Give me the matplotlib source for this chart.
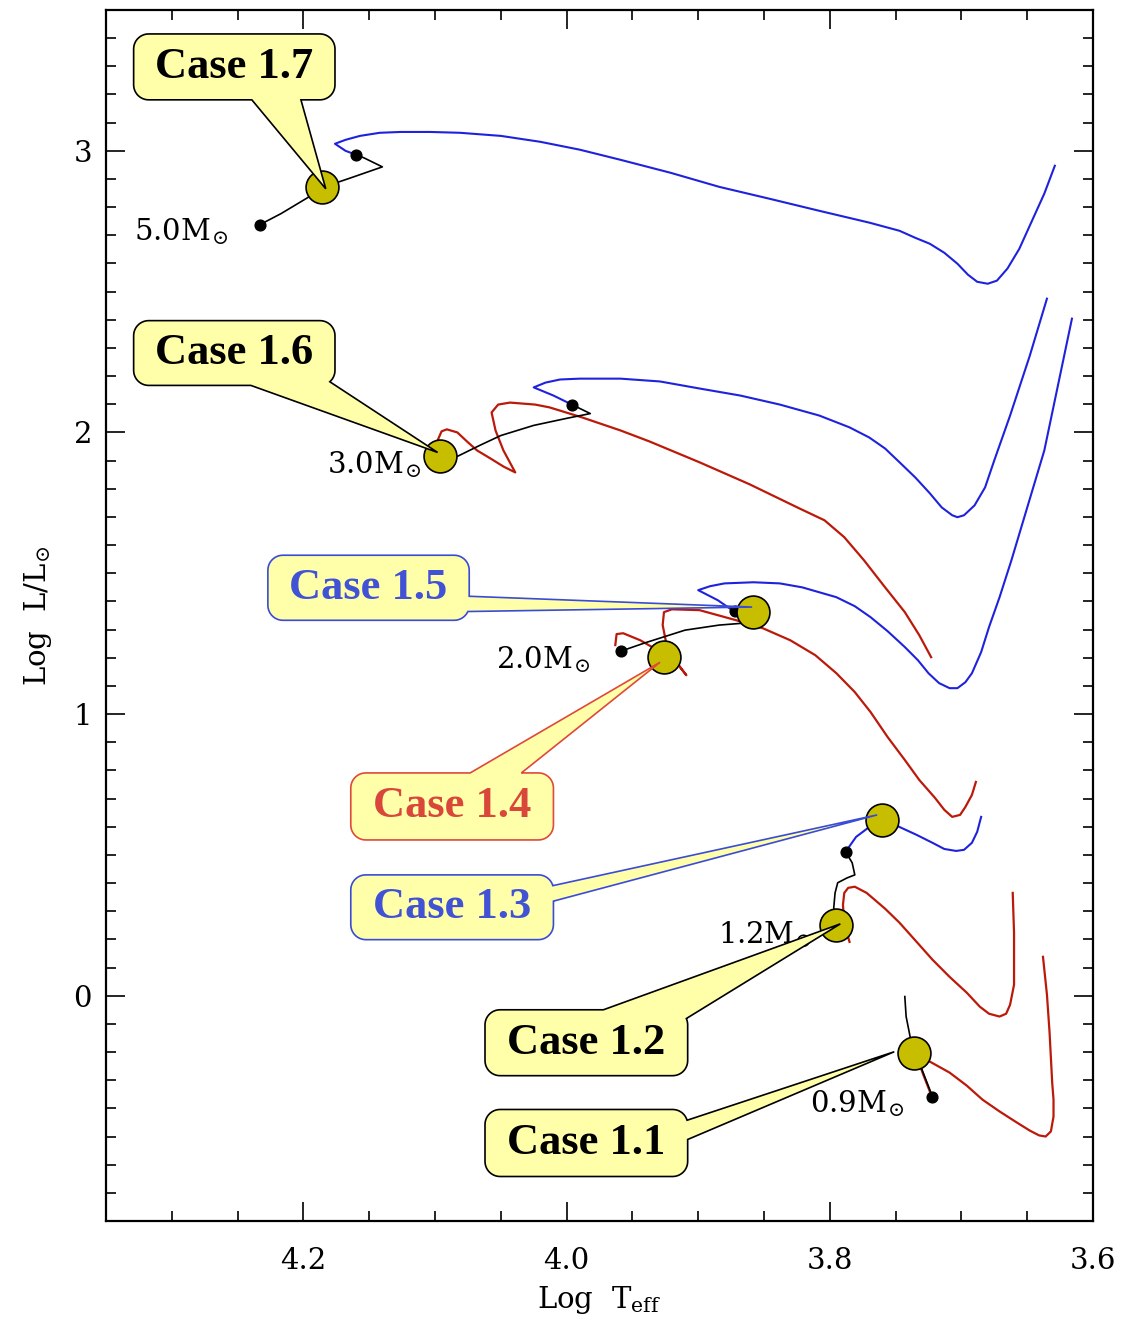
import numpy as np
import matplotlib

matplotlib.use("Agg")

import matplotlib.pyplot as plt
from matplotlib.patches import Polygon
from matplotlib.ticker import FormatStrFormatter, MultipleLocator

plt.rcParams["font.family"] = "DejaVu Serif"
plt.rcParams["mathtext.fontset"] = "dejavuserif"

# HR-diagram tracks as (log Teff, log L/Lsun)
# black = main-sequence part, blue / red = binary evolution branches
MS_50 = [(4.233, 2.738), (4.217, 2.777), (4.197, 2.833), (4.186, 2.869), (4.164, 2.904),
         (4.140, 2.943), (4.154, 2.975), (4.160, 2.986)]
BLUE_50 = [(4.160, 2.986), (4.168, 3.000), (4.176, 3.025), (4.168, 3.039), (4.157, 3.053),
           (4.142, 3.064), (4.126, 3.067), (4.104, 3.067), (4.081, 3.064), (4.050, 3.053),
           (4.020, 3.032), (3.990, 3.004), (3.959, 2.968), (3.921, 2.922), (3.884, 2.872),
           (3.846, 2.830), (3.808, 2.787), (3.770, 2.745), (3.747, 2.716), (3.735, 2.691),
           (3.724, 2.670), (3.713, 2.638), (3.703, 2.599), (3.695, 2.560), (3.688, 2.535),
           (3.680, 2.528), (3.673, 2.539), (3.665, 2.582), (3.656, 2.652), (3.647, 2.745),
           (3.637, 2.848), (3.629, 2.947)]

MS_30 = [(4.096, 1.915), (4.083, 1.915), (4.066, 1.954), (4.050, 1.989), (4.025, 2.025),
         (4.000, 2.050), (3.982, 2.067), (3.996, 2.099)]
BLUE_30 = [(3.996, 2.099), (4.010, 2.131), (4.025, 2.160), (4.016, 2.177), (4.005, 2.188),
           (3.990, 2.191), (3.959, 2.191), (3.929, 2.181), (3.899, 2.156), (3.868, 2.131),
           (3.838, 2.099), (3.808, 2.060), (3.785, 2.018), (3.770, 1.982), (3.758, 1.943),
           (3.747, 1.894), (3.735, 1.840), (3.724, 1.784), (3.715, 1.734), (3.707, 1.706),
           (3.703, 1.699), (3.698, 1.706), (3.690, 1.741), (3.682, 1.805), (3.675, 1.901),
           (3.663, 2.060), (3.648, 2.273), (3.635, 2.475)]
RED_30 = [(4.098, 1.972), (4.095, 2.004), (4.091, 2.011), (4.083, 2.000), (4.075, 1.965),
          (4.068, 1.936), (4.058, 1.908), (4.048, 1.879), (4.039, 1.858), (4.048, 1.936),
          (4.054, 2.007), (4.057, 2.071), (4.052, 2.099), (4.043, 2.106), (4.024, 2.099),
          (4.013, 2.089), (3.988, 2.053), (3.959, 2.007), (3.937, 1.968), (3.899, 1.894),
          (3.861, 1.816), (3.823, 1.730), (3.804, 1.688), (3.789, 1.628), (3.774, 1.546),
          (3.758, 1.450), (3.743, 1.362), (3.732, 1.280), (3.723, 1.202)]

MS_20 = [(3.959, 1.223), (3.941, 1.252), (3.910, 1.298), (3.884, 1.316), (3.865, 1.323),
         (3.857, 1.330), (3.872, 1.362)]
BLUE_20 = [(3.872, 1.362), (3.885, 1.404), (3.900, 1.440), (3.891, 1.454), (3.880, 1.464),
           (3.858, 1.468), (3.838, 1.464), (3.821, 1.450), (3.795, 1.415), (3.781, 1.383),
           (3.769, 1.344), (3.756, 1.294), (3.743, 1.238), (3.733, 1.191), (3.725, 1.145),
           (3.717, 1.110), (3.709, 1.092), (3.703, 1.092), (3.697, 1.113), (3.692, 1.145),
           (3.685, 1.220), (3.679, 1.309), (3.671, 1.415), (3.662, 1.546), (3.637, 1.936),
           (3.616, 2.404)]
RED_20 = [(3.963, 1.245), (3.962, 1.284), (3.957, 1.287), (3.944, 1.262), (3.931, 1.227),
          (3.916, 1.181), (3.909, 1.138), (3.918, 1.191), (3.924, 1.245), (3.927, 1.316),
          (3.926, 1.362), (3.920, 1.372), (3.899, 1.369), (3.871, 1.333), (3.851, 1.305),
          (3.830, 1.262), (3.811, 1.209), (3.795, 1.145), (3.781, 1.078), (3.769, 1.007),
          (3.756, 0.918), (3.743, 0.837), (3.732, 0.766), (3.720, 0.702), (3.713, 0.660),
          (3.707, 0.635), (3.701, 0.642), (3.697, 0.670), (3.692, 0.713), (3.689, 0.759)]

MS_12 = [(3.795, 0.252), (3.797, 0.312), (3.796, 0.365), (3.794, 0.401), (3.787, 0.418),
         (3.781, 0.429), (3.783, 0.472), (3.788, 0.511)]
BLUE_12 = [(3.788, 0.511), (3.780, 0.564), (3.770, 0.599), (3.760, 0.624), (3.747, 0.599),
           (3.734, 0.571), (3.722, 0.543), (3.713, 0.521), (3.704, 0.514), (3.698, 0.518),
           (3.692, 0.543), (3.688, 0.582), (3.685, 0.635)]
RED_12 = [(3.785, 0.191), (3.789, 0.252), (3.790, 0.323), (3.789, 0.365), (3.786, 0.383),
          (3.781, 0.387), (3.772, 0.365), (3.758, 0.309), (3.747, 0.259), (3.734, 0.191),
          (3.722, 0.128), (3.709, 0.067), (3.696, 0.011), (3.686, -0.039), (3.679, -0.064),
          (3.671, -0.074), (3.666, -0.064), (3.663, -0.032), (3.660, 0.039), (3.660, 0.128),
          (3.660, 0.223), (3.661, 0.365)]

MS_09 = [(3.743, -0.003), (3.742, -0.074), (3.739, -0.145), (3.736, -0.202), (3.730, -0.262),
         (3.722, -0.358)]
RED_09 = [(3.724, -0.340), (3.729, -0.280), (3.733, -0.227), (3.724, -0.234), (3.709, -0.273),
          (3.696, -0.319), (3.684, -0.369), (3.671, -0.411), (3.658, -0.450), (3.648, -0.479),
          (3.641, -0.496), (3.636, -0.500), (3.632, -0.482), (3.630, -0.429), (3.630, -0.369),
          (3.631, -0.309), (3.633, -0.131), (3.635, 0.004), (3.638, 0.138)]

# start / end of the main-sequence phase
DOT_LOGT = [4.233, 4.160, 3.996, 3.959, 3.872, 3.788, 3.722]
DOT_LOGL = [2.738, 2.986, 2.099, 1.223, 1.365, 0.511, -0.358]

MASS_LABELS = [r"5.0$\mathrm{M}_{\!\odot}$", r"3.0$\mathrm{M}_{\!\odot}$", r"2.0$\mathrm{M}_{\!\odot}$",
               r"1.2$\mathrm{M}_{\!\odot}$", r"0.9$\mathrm{M}_{\!\odot}$"]
MASS_LABEL_T = [4.329, 4.182, 4.054, 3.885, 3.815]
MASS_LABEL_L = [2.681, 1.855, 1.163, 0.188, -0.415]

# mass-transfer onset for each case
CASES = ["Case 1.1", "Case 1.2", "Case 1.3", "Case 1.4", "Case 1.5", "Case 1.6", "Case 1.7"]
CASE_LOGT = [3.736, 3.795, 3.760, 3.926, 3.858, 4.096, 4.186]
CASE_LOGL = [-0.202, 0.252, 0.624, 1.202, 1.362, 1.915, 2.872]

BLACK = "#000000"
BLUE_EDGE = "#3a4bd6"
RED_EDGE = "#e0483a"
CASE_EDGE = [BLACK, BLACK, BLUE_EDGE, RED_EDGE, BLUE_EDGE, BLACK, BLACK]
CASE_TEXT = ["#000000", "#000000", "#4152d4", "#d9473b", "#4152d4", "#000000", "#000000"]

# callout boxes: (left, right, bottom, top), wedge base points and wedge tip
CASE_BOX = [(4.062, 3.908, -0.642, -0.404), (4.062, 3.908, -0.284, -0.050),
            (4.164, 4.010, 0.199, 0.429), (4.164, 4.010, 0.553, 0.791),
            (4.227, 4.074, 1.333, 1.564), (4.329, 4.176, 2.167, 2.397),
            (4.329, 4.176, 3.181, 3.415)]
CASE_BASE = [((3.908, -0.443), (3.908, -0.511)), ((3.972, -0.050), (3.908, -0.078)),
             ((4.010, 0.390), (4.010, 0.337)), ((4.073, 0.791), (4.034, 0.791)),
             ((4.074, 1.418), (4.074, 1.362)), ((4.240, 2.167), (4.1795, 2.177)),
             ((4.239, 3.181), (4.2015, 3.181))]
CASE_TIP = [(3.751, -0.199), (3.792, 0.255), (3.764, 0.642), (3.929, 1.184),
            (3.859, 1.380), (4.098, 1.929), (4.183, 2.865)]

TRACK_BLUE = "#1f22dc"
TRACK_RED = "#bb1a0a"


def rounded_rect(x0, y0, x1, y1, r):
    corners = [(x1 - r, y0 + r, -90), (x1 - r, y1 - r, 0), (x0 + r, y1 - r, 90), (x0 + r, y0 + r, 180)]
    pts = []
    for cx, cy, a0 in corners:
        ang = np.radians(np.linspace(a0, a0 + 90, 12))
        pts.extend(zip(cx + r * np.cos(ang), cy + r * np.sin(ang)))
    pts = np.array(pts)
    dense = []
    for k in range(len(pts)):
        p, q = pts[k], pts[(k + 1) % len(pts)]
        n = max(int(np.hypot(*(q - p))), 1)
        for s in np.arange(n) / n:
            dense.append(p + (q - p) * s)
    return np.array(dense)


def callout(ax, box, base, tip, text, edge, color, radius=15):
    """Rounded box with a wedge pointing at tip, drawn as one outline (pixel space)."""
    to_px = ax.transData.transform
    (xa, ya), (xb, yb) = to_px([(box[0], box[2]), (box[1], box[3])])
    x0, x1 = sorted([xa, xb])
    y0, y1 = sorted([ya, yb])
    perim = rounded_rect(x0, y0, x1, y1, radius)
    b = to_px(base)
    t = to_px(tip)
    i = int(np.argmin(np.hypot(*(perim - b[0]).T)))
    j = int(np.argmin(np.hypot(*(perim - b[1]).T)))
    if i > j:
        i, j = j, i
    if j - i <= len(perim) / 2:
        outline = np.vstack([perim[:i + 1], t, perim[j:]])
    else:
        outline = np.vstack([perim[i:j + 1], t])
    poly = Polygon(ax.transData.inverted().transform(outline), closed=True,
                   facecolor="#ffffaa", edgecolor=edge, linewidth=1.2, zorder=6)
    ax.add_patch(poly)
    cx, cy = ax.transData.inverted().transform(((x0 + x1) / 2, (y0 + y1) / 2))
    ax.text(cx, cy, text, ha="center", va="center", fontsize=32, fontweight="bold",
            family="Liberation Serif", color=color, zorder=7)


fig = plt.figure(figsize=(11.37, 13.23), dpi=100)
ax = fig.add_axes([106 / 1137, 1 - 1221 / 1323, (1093 - 106) / 1137, (1221 - 10) / 1323])
ax.set_xlim(4.35, 3.6)
ax.set_ylim(-0.8, 3.5)

for seg in (MS_50, MS_30, MS_20, MS_12, MS_09):
    t, l = np.array(seg).T
    ax.plot(t, l, color=BLACK, lw=1.2, solid_joinstyle="round", zorder=3)
for seg in (BLUE_50, BLUE_30, BLUE_20, BLUE_12):
    t, l = np.array(seg).T
    ax.plot(t, l, color=TRACK_BLUE, lw=1.5, solid_joinstyle="round", zorder=2)
for seg in (RED_30, RED_20, RED_12, RED_09):
    t, l = np.array(seg).T
    ax.plot(t, l, color=TRACK_RED, lw=1.6, solid_joinstyle="round", zorder=2)

ax.scatter(DOT_LOGT, DOT_LOGL, s=60, color=BLACK, zorder=4)
ax.scatter(CASE_LOGT, CASE_LOGL, s=560, facecolor="#c8be00", edgecolor=BLACK, linewidth=1.2, zorder=5)

for label, t, l in zip(MASS_LABELS, MASS_LABEL_T, MASS_LABEL_L):
    ax.text(t, l, label, ha="left", va="baseline", fontsize=21, zorder=4)

for k, name in enumerate(CASES):
    callout(ax, CASE_BOX[k], CASE_BASE[k], CASE_TIP[k], name, CASE_EDGE[k], CASE_TEXT[k])

ax.xaxis.set_major_locator(MultipleLocator(0.2))
ax.xaxis.set_minor_locator(MultipleLocator(0.05))
ax.yaxis.set_major_locator(MultipleLocator(1))
ax.yaxis.set_minor_locator(MultipleLocator(0.1))
ax.xaxis.set_major_formatter(FormatStrFormatter("%.1f"))
ax.yaxis.set_major_formatter(FormatStrFormatter("%d"))
ax.tick_params(which="both", direction="in", top=True, right=True, width=1.2, labelsize=21)
ax.tick_params(which="major", length=14)
ax.tick_params(which="minor", length=7)
ax.tick_params(axis="x", which="major", pad=19)
ax.tick_params(axis="y", which="major", pad=10)
for spine in ax.spines.values():
    spine.set_linewidth(1.6)

ax.set_xlabel(r"Log  $\mathrm{T}_\mathrm{eff}$", fontsize=21, labelpad=6)
ax.set_ylabel(r"Log  L/$\mathrm{L}_{\!\odot}$", fontsize=21, labelpad=14)

fig.savefig("out.png", dpi=100)
